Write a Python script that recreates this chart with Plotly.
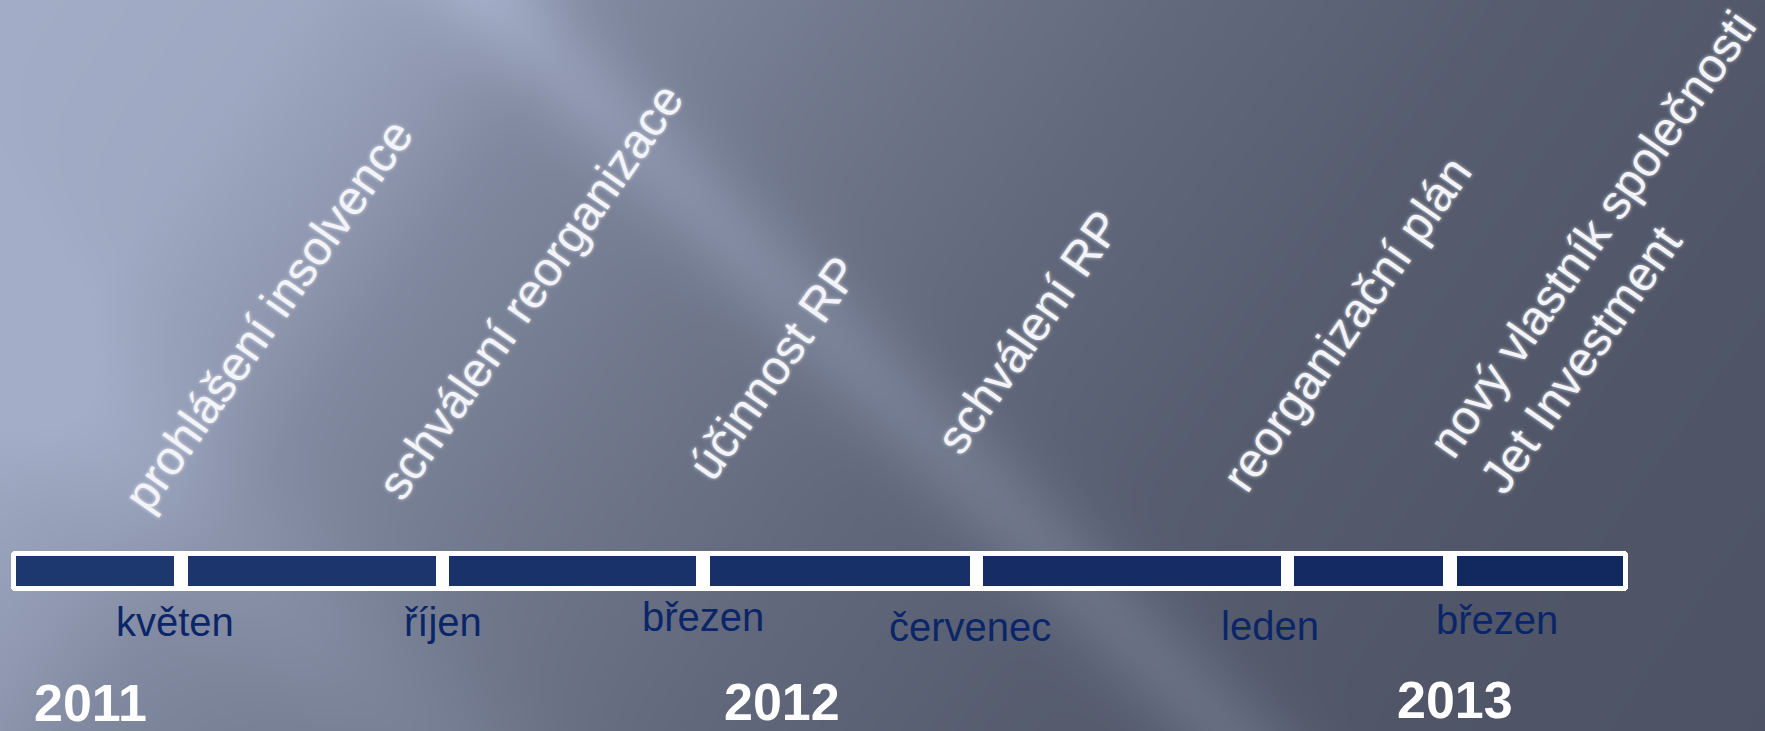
import base64, struct, zlib
import numpy as np
import plotly.graph_objects as go

# ---------------- data ----------------
timeline_start = 16
timeline_end = 1623
dividers = [181, 442.5, 703, 976.5, 1287.5, 1450]

months = ["květen", "říjen", "březen", "červenec", "leden", "březen"]
month_x = [175, 443, 703, 970, 1270, 1497]
month_y = [622, 622, 617, 627, 626, 620]

years = ["2011", "2012", "2013"]
year_x = [90, 782, 1455]
year_y = [703, 702, 700]

events = ["prohlášení insolvence", "schválení reorganizace", "účinnost RP",
          "schválení RP", "reorganizační plán",
          "nový vlastník společnosti<br>Jet Investment"]
event_x = [268, 530, 773, 1028, 1346, 1617]
event_y = [315, 291, 368, 332, 324, 252]

# ---------------- styling ----------------
W, H = 1765, 731
GAP = 13.5
NAVY_LEFT = np.array([30, 56, 112])
NAVY_RIGHT = np.array([17, 40, 95])
MONTH_COLOR = "#0b2668"
FONT = "Liberation Sans, Arial, sans-serif"


def png_uri(arr):
    h, w, _ = arr.shape
    raw = b"".join(b"\x00" + arr[i].tobytes() for i in range(h))

    def chunk(tag, data):
        return (struct.pack(">I", len(data)) + tag + data +
                struct.pack(">I", zlib.crc32(tag + data) & 0xFFFFFFFF))

    png = (b"\x89PNG\r\n\x1a\n" +
           chunk(b"IHDR", struct.pack(">IIBBBBB", w, h, 8, 2, 0, 0, 0)) +
           chunk(b"IDAT", zlib.compress(raw, 9)) + chunk(b"IEND", b""))
    return "data:image/png;base64," + base64.b64encode(png).decode()


def background():
    s = 2
    ys, xs = np.mgrid[0:H:s, 0:W:s].astype(float)
    u = xs + 0.7 * ys
    f = np.interp(u, [0, 300, 480, 600, 850, 1200, 1500, 1900, 2400],
                  [1.0, 0.95, 0.78, 0.6, 0.43, 0.24, 0.12, 0.04, 0.0])
    d = xs - ys
    f += 0.22 * np.exp(-0.5 * ((d - 495) / 50) ** 2)
    f += 0.12 * np.exp(-0.5 * ((d + 320) / 90) ** 2)
    f = np.clip(f, 0, 1)[..., None]
    light = np.array([163, 173, 199], float)
    dark = np.array([77, 83, 100], float)
    img = dark + f * (light - dark)
    return png_uri(np.clip(img, 0, 255).astype(np.uint8))


fig = go.Figure()

# white frame
fig.add_trace(go.Bar(
    orientation="h", y=[571], base=[timeline_start - 5],
    x=[timeline_end - timeline_start + 10], width=40,
    marker=dict(color="white", line=dict(width=0), cornerradius=4),
    hoverinfo="skip", showlegend=False))

# navy segments
edges = [timeline_start] + dividers + [timeline_end]
seg_base, seg_len, seg_col = [], [], []
for i in range(len(edges) - 1):
    a = edges[i] + (GAP / 2 if i > 0 else 0)
    b = edges[i + 1] - (GAP / 2 if i + 1 < len(edges) - 1 else 0)
    seg_base.append(a)
    seg_len.append(b - a)
    t = ((a + b) / 2 - timeline_start) / (timeline_end - timeline_start)
    c = NAVY_LEFT + t * (NAVY_RIGHT - NAVY_LEFT)
    seg_col.append("rgb(%d,%d,%d)" % tuple(c.round().astype(int)))
fig.add_trace(go.Bar(
    orientation="h", y=[571] * len(seg_base), base=seg_base, x=seg_len,
    width=30, marker=dict(color=seg_col, line=dict(width=0)),
    hoverinfo="skip", showlegend=False))

annotations = []
for m, x, y in zip(months, month_x, month_y):
    annotations.append(dict(x=x, y=y, text=m, showarrow=False,
                            xanchor="center", yanchor="middle",
                            font=dict(family=FONT, size=40, color=MONTH_COLOR)))
for t, x, y in zip(years, year_x, year_y):
    annotations.append(dict(x=x, y=y, text="<b>%s</b>" % t, showarrow=False,
                            xanchor="center", yanchor="middle",
                            font=dict(family=FONT, size=52, color="white")))
for t, x, y in zip(events, event_x, event_y):
    annotations.append(dict(x=x, y=y, text=t, showarrow=False, textangle=-55,
                            xanchor="center", yanchor="middle", align="left",
                            font=dict(family=FONT, size=48, color="#f2f4f9",
                                      shadow="0px 0px 4px rgba(255,255,255,0.7)")))

fig.update_layout(
    width=W, height=H, autosize=False,
    margin=dict(l=0, r=0, t=0, b=0),
    paper_bgcolor="#5a6074", plot_bgcolor="rgba(0,0,0,0)",
    xaxis=dict(range=[0, W], visible=False, fixedrange=True),
    yaxis=dict(range=[H, 0], visible=False, fixedrange=True),
    barmode="overlay", bargap=0,
    annotations=annotations,
    images=[dict(source=background(), xref="paper", yref="paper",
                 x=0, y=1, sizex=1, sizey=1, sizing="stretch",
                 xanchor="left", yanchor="top", layer="below")],
    showlegend=False,
)

fig.write_html("out.html", config={"displayModeBar": False})
